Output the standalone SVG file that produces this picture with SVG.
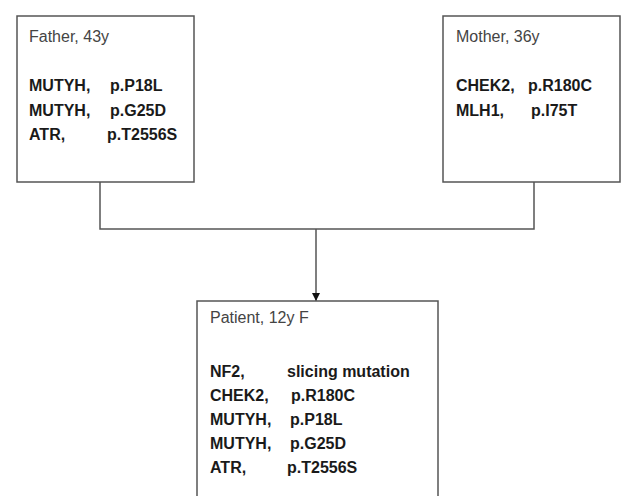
<svg xmlns="http://www.w3.org/2000/svg" width="628" height="496" viewBox="0 0 628 496">
<defs>
<style>
.box{fill:#fff;stroke:#555;stroke-width:1.5}
.hd{font-family:"Liberation Sans",Arial,sans-serif;font-size:16px;fill:#444}
.tx{font-family:"Liberation Sans",Arial,sans-serif;font-size:16px;font-weight:bold;fill:#1a1a1a}
.ln{fill:none;stroke:#555;stroke-width:1.5}
</style>
<marker id="arr" viewBox="0 0 10 10" refX="10" refY="5" markerWidth="8" markerHeight="8" markerUnits="userSpaceOnUse" orient="auto">
<path d="M0,0 L10,5 L0,10 Z" fill="#111"/>
</marker>
</defs>
<rect width="628" height="496" fill="#fff"/>
<g id="connectors">
<polyline class="ln" points="100,182 100,229 534,229 534,182"/>
<line class="ln" x1="316" y1="229" x2="316" y2="301" marker-end="url(#arr)"/>
</g>
<g id="father">
<rect class="box" x="17" y="16" width="177" height="166"/>
<text class="hd" x="29" y="42">Father, 43y</text>
<text class="tx" x="29" y="91">MUTYH,</text><text class="tx" x="110" y="91">p.P18L</text>
<text class="tx" x="29" y="115.5">MUTYH,</text><text class="tx" x="110" y="115.5">p.G25D</text>
<text class="tx" x="29" y="140">ATR,</text><text class="tx" x="107" y="140">p.T2556S</text>
</g>
<g id="mother">
<rect class="box" x="443" y="16" width="177" height="166"/>
<text class="hd" x="456" y="42">Mother, 36y</text>
<text class="tx" x="456" y="91">CHEK2,</text><text class="tx" x="528" y="91">p.R180C</text>
<text class="tx" x="456" y="115.5">MLH1,</text><text class="tx" x="531" y="115.5">p.I75T</text>
</g>
<g id="patient">
<rect class="box" x="197" y="301" width="241" height="210"/>
<text class="hd" x="210" y="323">Patient, 12y F</text>
<text class="tx" x="210" y="377">NF2,</text><text class="tx" x="287" y="377">slicing mutation</text>
<text class="tx" x="210" y="401">CHEK2,</text><text class="tx" x="291" y="401">p.R180C</text>
<text class="tx" x="210" y="425">MUTYH,</text><text class="tx" x="290" y="425">p.P18L</text>
<text class="tx" x="210" y="449">MUTYH,</text><text class="tx" x="290" y="449">p.G25D</text>
<text class="tx" x="210" y="473">ATR,</text><text class="tx" x="287" y="473">p.T2556S</text>
</g>
</svg>
